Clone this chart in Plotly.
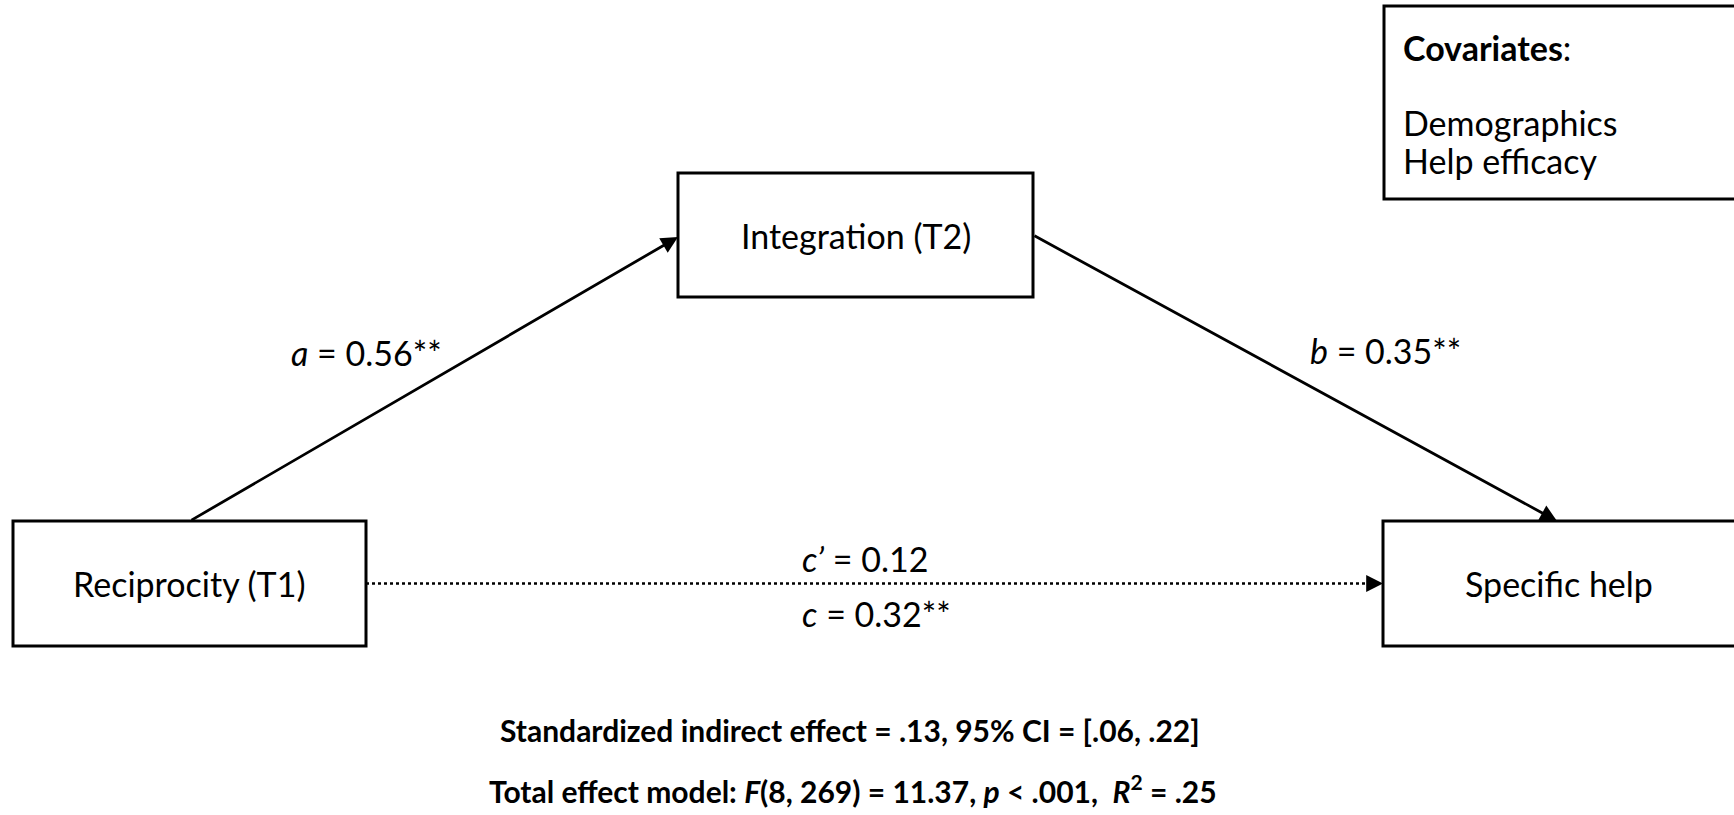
import plotly.graph_objects as go

# ---- data ----
node_names = ["Reciprocity (T1)", "Integration (T2)", "Specific help"]
path_names = ["a", "b", "c’", "c"]
path_coefs = [0.56, 0.35, 0.12, 0.32]
path_stars = ["**", "**", "", "**"]
covariate_title = "Covariates"
covariates = ["Demographics", "Help efficacy"]
indirect_effect = ".13"
ci_low, ci_high = ".06", ".22"
total_F_df = (8, 269)
total_F = "11.37"
total_p = ".001"
total_R2 = ".25"

# ---- layout geometry (pixels, y down) ----
W, H = 1734, 815
boxes = {
    "X": (13, 521, 366, 646),
    "M": (678, 173, 1033, 297),
    "Y": (1383, 521, 1738, 646),
}
cov_box = (1384, 6, 1740, 199)
FONT = "Lato"
BODY = 34
BOLD = 30

fig = go.Figure()
fig.add_trace(go.Scatter(x=[0, W], y=[0, H], mode="markers",
                         marker=dict(opacity=0), hoverinfo="skip", showlegend=False))

shapes = []
for k, (x0, y0, x1, y1) in boxes.items():
    shapes.append(dict(type="rect", xref="x", yref="y", x0=x0, y0=y0, x1=x1, y1=y1,
                       line=dict(color="black", width=3), fillcolor="rgba(0,0,0,0)"))
shapes.append(dict(type="rect", xref="x", yref="y", x0=cov_box[0], y0=cov_box[1],
                   x1=cov_box[2], y1=cov_box[3], line=dict(color="black", width=3),
                   fillcolor="rgba(0,0,0,0)"))
# dotted direct path
yc = (boxes["X"][1] + boxes["X"][3]) / 2
shapes.append(dict(type="line", xref="x", yref="y", x0=boxes["X"][2], y0=yc,
                   x1=boxes["Y"][0] - 8, y1=yc, line=dict(color="black", width=2.5, dash="dot")))

ann = []

def arrow(tail, tip):
    ann.append(dict(x=tip[0], y=tip[1], ax=tail[0], ay=tail[1], xref="x", yref="y",
                    axref="x", ayref="y", text="", showarrow=True, arrowhead=2,
                    arrowsize=1.2, arrowwidth=2.8, arrowcolor="black", standoff=0,
                    startstandoff=0))

arrow((190, boxes["X"][1]), (boxes["M"][0], 237))
arrow((boxes["M"][2], 235), (1557, boxes["Y"][1]))
arrow((boxes["Y"][0] - 14, yc), (boxes["Y"][0], yc))

def text(x, y, s, size=BODY, xanchor="left"):
    ann.append(dict(x=x, y=y, xref="x", yref="y", text=s, showarrow=False,
                    xanchor=xanchor, yanchor="middle",
                    font=dict(family=FONT, size=size, color="black")))

# node labels
for name, key in zip(node_names, ["X", "M", "Y"]):
    x0, y0, x1, y1 = boxes[key]
    cx = (x0 + x1) / 2 if key != "Y" else 1559
    text(cx, (y0 + y1) / 2, name, xanchor="center")

# path labels
def lab(i):
    return f"<i>{path_names[i]}</i> = {path_coefs[i]:.2f}{path_stars[i]}"

text(289, 352, lab(0))
text(1308, 350, lab(1))
text(800, 558, lab(2))
text(800, 613, lab(3))

# covariates
text(1401, 47, f"<b>{covariate_title}</b>:")
text(1401, 122, covariates[0])
text(1401, 160, covariates[1])

# bottom stats
text(850, 730, f"<b>Standardized indirect effect = {indirect_effect}, 95% CI = [{ci_low}, {ci_high}]</b>",
     size=BOLD, xanchor="center")
text(853, 789, f"<b>Total effect model: <i>F</i>({total_F_df[0]}, {total_F_df[1]}) = {total_F}, "
               f"<i>p</i> &lt; {total_p},\u00a0 <i>R</i><sup>2</sup> = {total_R2}</b>",
     size=BOLD, xanchor="center")

fig.update_layout(
    width=W, height=H, margin=dict(l=0, r=0, t=0, b=0),
    paper_bgcolor="white", plot_bgcolor="white",
    xaxis=dict(range=[0, W], visible=False, fixedrange=True),
    yaxis=dict(range=[H, 0], visible=False, fixedrange=True),
    shapes=shapes, annotations=ann, showlegend=False,
)

fig.write_html("out.html", config={"displayModeBar": False},
               post_script="document.body.style.margin='0';document.body.style.overflow='hidden';")
